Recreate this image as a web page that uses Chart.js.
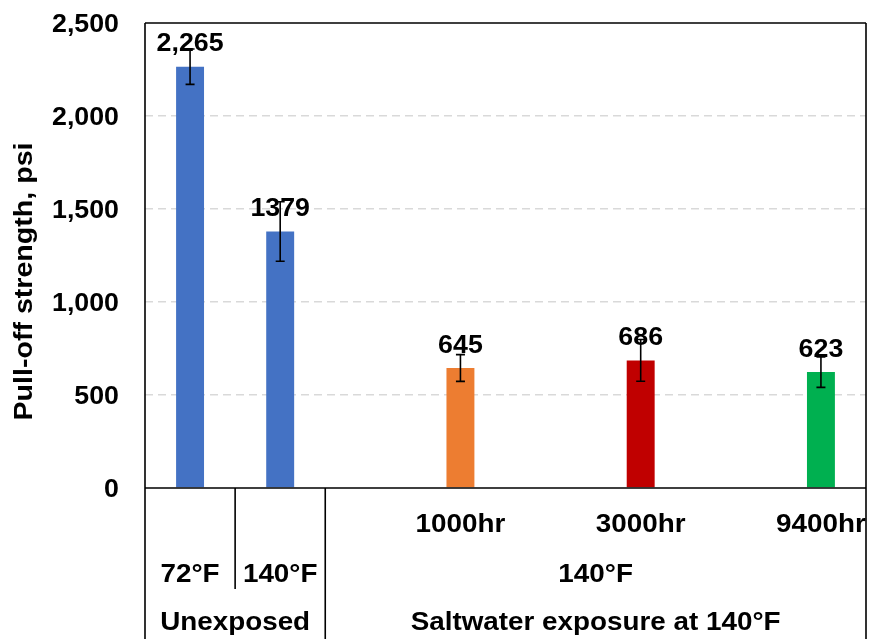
<!DOCTYPE html>
<html>
<head>
<meta charset="utf-8">
<script src="https://cdn.jsdelivr.net/npm/chart.js@4"></script>
<style>
html,body{margin:0;padding:0;background:#fff;}
#wrap{width:870px;height:639px;position:relative;}
</style>
</head>
<body>
<div id="wrap"><canvas id="c" width="870" height="639"></canvas></div>
<script>
// ---- data ----
const categories = ['72°F', '140°F', '', '1000hr', '', '3000hr', '', '9400hr'];
const values = [2265, 1379, null, 645, null, 686, null, 623];
const errors = [95, 160, null, 72, null, 112, null, 82];
const valueLabels = ['2,265', '1379', '', '645', '', '686', '', '623'];
const barColors = ['#4472C4', '#4472C4', null, '#ED7D31', null, '#C00000', null, '#00B050'];
const groupLabels = ['Unexposed', 'Saltwater exposure at 140°F'];
const groupSubLabels = ['', '140°F'];
const groupStart = [0, 2];
const groupEnd = [1, 7];
const yMin = 0, yMax = 2500, yStep = 500;
const yTitle = 'Pull-off strength, psi';

const FONT = '"Liberation Sans", Arial, Helvetica, sans-serif';

function stretchText(ctx, text, x, y, sx, align) {
  ctx.save();
  ctx.translate(x, y);
  ctx.scale(sx, 1);
  ctx.textAlign = align || 'center';
  ctx.textBaseline = 'alphabetic';
  ctx.fillText(text, 0, 0);
  ctx.restore();
}

const customDraw = {
  id: 'customDraw',
  afterDatasetsDraw(chart) {
    const ctx = chart.ctx;
    const ys = chart.scales.y;
    const meta = chart.getDatasetMeta(0);
    // value labels
    ctx.save();
    ctx.fillStyle = '#000';
    ctx.font = 'bold 25px ' + FONT;
    values.forEach((v, i) => {
      if (v == null) return;
      const el = meta.data[i];
      stretchText(ctx, valueLabels[i], el.x, ys.getPixelForValue(v) - 15.5, 1.07, 'center');
    });
    ctx.restore();
    // error bars
    ctx.save();
    ctx.strokeStyle = '#000';
    ctx.lineWidth = 1.6;
    values.forEach((v, i) => {
      if (v == null) return;
      const x = meta.data[i].x;
      const yt = ys.getPixelForValue(v + errors[i]);
      const yb = ys.getPixelForValue(v - errors[i]);
      ctx.beginPath();
      ctx.moveTo(x, yt); ctx.lineTo(x, yb);
      ctx.moveTo(x - 4.5, yt); ctx.lineTo(x + 4.5, yt);
      ctx.moveTo(x - 4.5, yb); ctx.lineTo(x + 4.5, yb);
      ctx.stroke();
    });
    ctx.restore();
  },
  afterDraw(chart) {
    const ctx = chart.ctx;
    const ys = chart.scales.y;
    const xs = chart.scales.x;
    const ca = chart.chartArea;
    const H = chart.height;
    const half = (xs.getPixelForValue(1) - xs.getPixelForValue(0)) / 2;
    const boundary = (i) => xs.getPixelForValue(i) - half;

    ctx.save();
    ctx.strokeStyle = '#000';
    ctx.lineWidth = 1.6;
    ctx.beginPath();
    // frame
    ctx.moveTo(ca.left, ca.top); ctx.lineTo(ca.right, ca.top);
    ctx.moveTo(ca.left, ca.top); ctx.lineTo(ca.left, H);
    ctx.moveTo(ca.right, ca.top); ctx.lineTo(ca.right, H);
    // x axis
    ctx.moveTo(ca.left, ca.bottom); ctx.lineTo(ca.right, ca.bottom);
    // separator inside Unexposed group
    const s1 = boundary(1);
    ctx.moveTo(s1, ca.bottom); ctx.lineTo(s1, ca.bottom + 101);
    // group separator
    const s2 = boundary(groupStart[1]);
    ctx.moveTo(s2, ca.bottom); ctx.lineTo(s2, H);
    ctx.stroke();
    ctx.restore();

    ctx.save();
    ctx.fillStyle = '#000';
    // y tick labels
    ctx.font = 'bold 25px ' + FONT;
    ys.ticks.forEach(t => {
      const y = ys.getPixelForValue(t.value);
      stretchText(ctx, t.value.toLocaleString('en-US'), 119, y + 9, 1.07, 'right');
    });
    // category labels
    ctx.font = 'bold 26px ' + FONT;
    categories.forEach((c, i) => {
      if (!c) return;
      const x = xs.getPixelForValue(i);
      const rowY = /hr$/.test(c) ? ca.bottom + 43.5 : ca.bottom + 93.5;
      stretchText(ctx, c, x, rowY, 1.07, 'center');
    });
    // group labels
    groupLabels.forEach((g, gi) => {
      const left = gi === 0 ? ca.left : boundary(groupStart[gi]);
      const right = gi === groupLabels.length - 1 ? ca.right : boundary(groupEnd[gi] + 1);
      const cx = (left + right) / 2;
      if (groupSubLabels[gi]) stretchText(ctx, groupSubLabels[gi], cx, ca.bottom + 93.5, 1.07, 'center');
      stretchText(ctx, g, cx, ca.bottom + 142, 1.07, 'center');
    });
    // y title
    ctx.font = 'bold 26px ' + FONT;
    ctx.translate(31.5, 281.5);
    ctx.rotate(-Math.PI / 2);
    ctx.scale(1.1, 1);
    ctx.textAlign = 'center';
    ctx.textBaseline = 'alphabetic';
    ctx.fillText(yTitle, 0, 0);
    ctx.restore();
  }
};

new Chart(document.getElementById('c'), {
  type: 'bar',
  data: {
    labels: categories,
    datasets: [{
      data: values,
      backgroundColor: barColors,
      borderWidth: 0,
      barPercentage: 0.31,
      categoryPercentage: 1.0
    }]
  },
  options: {
    responsive: false,
    animation: false,
    devicePixelRatio: 1,
    layout: { padding: { left: 0, top: 23, right: 4, bottom: 151 } },
    plugins: { legend: { display: false }, tooltip: { enabled: false }, title: { display: false } },
    scales: {
      x: { display: false, offset: true },
      y: {
        min: yMin, max: yMax,
        ticks: { stepSize: yStep, display: false },
        border: { display: false, dash: [8, 5] },
        grid: {
          drawTicks: false,
          lineWidth: 1.5,
          color: (c) => (c.tick && (c.tick.value === yMin || c.tick.value === yMax)) ? 'rgba(0,0,0,0)' : '#D9D9D9'
        },
        afterFit: (s) => { s.width = 145; }
      }
    }
  },
  plugins: [customDraw]
});
</script>
</body>
</html>
